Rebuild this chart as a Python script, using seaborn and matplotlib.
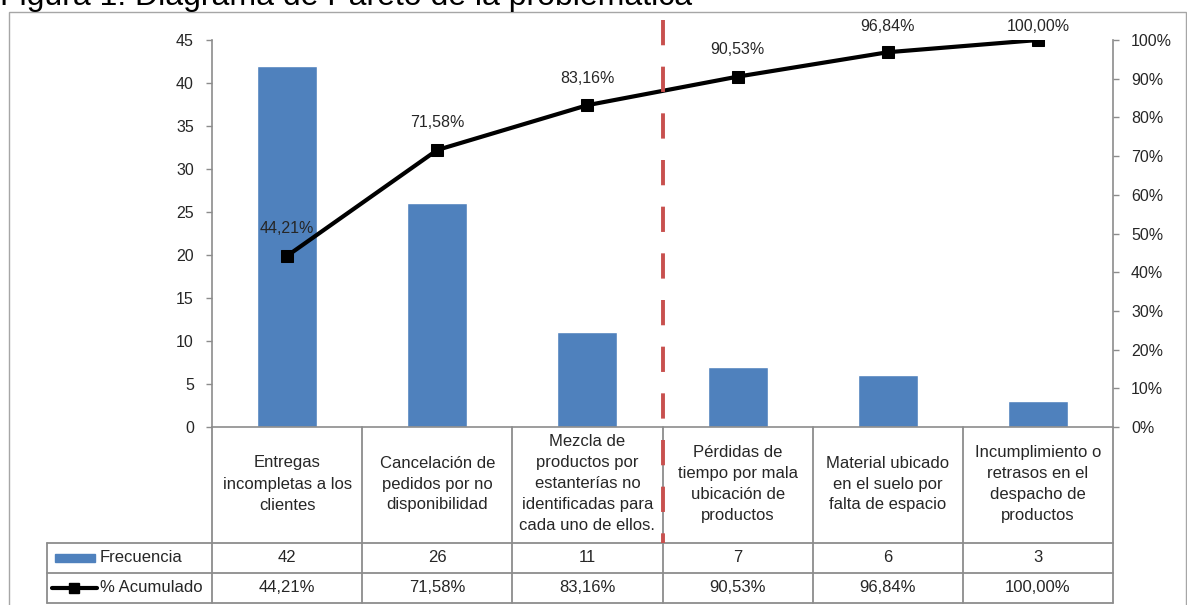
import numpy as np
import pandas as pd
import matplotlib
matplotlib.use("Agg")
import matplotlib.pyplot as plt
import seaborn as sns
from matplotlib.transforms import blended_transform_factory
from matplotlib.lines import Line2D
from matplotlib.patches import Rectangle
from matplotlib.ticker import FuncFormatter

# Datos del diagrama de Pareto
categorias = [
    "Entregas\nincompletas a los\nclientes",
    "Cancelación de\npedidos por no\ndisponibilidad",
    "Mezcla de\nproductos por\nestanterías no\nidentificadas para\ncada uno de ellos.",
    "Pérdidas de\ntiempo por mala\nubicación de\nproductos",
    "Material ubicado\nen el suelo por\nfalta de espacio",
    "Incumplimiento o\nretrasos en el\ndespacho de\nproductos",
]
frecuencia = [42, 26, 11, 7, 6, 3]
acumulado = [44.21, 71.58, 83.16, 90.53, 96.84, 100.00]
serie_barras = "Frecuencia"
serie_linea = "% Acumulado"
titulo = "Figura 1. Diagrama de Pareto de la problemática"


def pct(v):
    return f"{v:.2f}".replace(".", ",") + "%"


sns.set_theme(style="white")
plt.rcParams["font.family"] = ["Liberation Sans", "DejaVu Sans"]

W, H = 1187, 605
fig = plt.figure(figsize=(W / 100, H / 100), dpi=100)


def fx(px):
    return px / W


def fy(py):
    return 1 - py / H


GRIS = "#8c8c8c"
AZUL = "#4F81BD"
ROJO = "#C8504E"

# Marco exterior del gráfico
fig.patches.append(Rectangle((fx(9), fy(H + 5)), fx(1186) - fx(9), fy(12) - fy(H + 5),
                             transform=fig.transFigure, fill=False, ec="#a6a6a6", lw=1))

fig.text(0.0, fy(5), titulo, fontsize=23, ha="left", va="baseline", color="black")

ax = fig.add_axes([fx(212), fy(427), fx(1113) - fx(212), fy(40) - fy(427)])
df = pd.DataFrame({"categoria": categorias, "frecuencia": frecuencia})
sns.barplot(data=df, x="categoria", y="frecuencia", color=AZUL, saturation=1,
            width=0.4, ax=ax)
ax.set_xlim(-0.5, len(categorias) - 0.5)
ax.set_ylim(0, 45)
ax.set_yticks(range(0, 46, 5))
ax.set_xticks([])
ax.set_xlabel("")
ax.set_ylabel("")
for s in ["top", "right"]:
    ax.spines[s].set_visible(False)
for s in ["left", "bottom"]:
    ax.spines[s].set_color(GRIS)
    ax.spines[s].set_linewidth(1.2)
ax.tick_params(axis="y", direction="out", length=4, width=1, color=GRIS,
               labelsize=11.5, pad=9, left=True)

ax2 = ax.twinx()
x_pos = np.arange(len(categorias))
sns.lineplot(x=x_pos, y=acumulado, ax=ax2, color="black", lw=3, marker="s",
             markersize=9, markeredgecolor="black", zorder=5)
ax2.set_ylim(0, 100)
ax2.set_yticks(range(0, 101, 10))
ax2.yaxis.set_major_formatter(FuncFormatter(lambda v, p: f"{v:.0f}%"))
for s in ["top", "left", "bottom"]:
    ax2.spines[s].set_visible(False)
ax2.spines["right"].set_color(GRIS)
ax2.spines["right"].set_linewidth(1.2)
ax2.tick_params(axis="y", direction="out", length=4, width=1, color=GRIS,
                labelsize=11.5, pad=9, right=True)
ax2.set_ylabel("")
ax2.grid(False)
ax.grid(False)

# Etiquetas de porcentaje sobre cada punto, sin salir del área del gráfico
for xi, v in zip(x_pos, acumulado):
    y_lab = min(v + 7.0, 103.4)
    ax2.text(xi, y_lab, pct(v), ha="center", va="center", fontsize=11.5,
             zorder=6, clip_on=False)

# Tabla de datos bajo el eje de categorías
tr = blended_transform_factory(ax.transData, fig.transFigure)
y_top, y_h, y_r1, y_r2 = 427, 543, 573, 603
lw_t = 1.3
for b in np.arange(-0.5, len(categorias), 1.0):
    fig.add_artist(Line2D([b, b], [fy(y_top), fy(y_r2)], transform=tr, color=GRIS, lw=lw_t))
for yy in (y_h, y_r1, y_r2):
    fig.add_artist(Line2D([fx(47), fx(1113)], [fy(yy), fy(yy)], transform=fig.transFigure,
                          color=GRIS, lw=lw_t))
fig.add_artist(Line2D([fx(47), fx(47)], [fy(y_h), fy(y_r2)], transform=fig.transFigure,
                      color=GRIS, lw=lw_t))

for xi, cat, f, a in zip(x_pos, categorias, frecuencia, acumulado):
    fig.text(xi, fy((y_top + y_h) / 2 - 1), cat, transform=tr, ha="center", va="center",
             fontsize=12, linespacing=1.5, multialignment="center")
    fig.text(xi, fy((y_h + y_r1) / 2), str(f), transform=tr, ha="center", va="center",
             fontsize=12)
    fig.text(xi, fy((y_r1 + y_r2) / 2), pct(a), transform=tr, ha="center", va="center",
             fontsize=12)

# Claves de la leyenda en la tabla
fig.patches.append(Rectangle((fx(55), fy(562)), fx(95) - fx(55), fy(554) - fy(562),
                             transform=fig.transFigure, color=AZUL))
fig.text(fx(100), fy((y_h + y_r1) / 2), serie_barras, ha="left", va="center", fontsize=12)
fig.add_artist(Line2D([fx(52), fx(97)], [fy(588), fy(588)], transform=fig.transFigure,
                      color="black", lw=3))
fig.add_artist(Line2D([fx(74.5)], [fy(588)], transform=fig.transFigure, color="black",
                      marker="s", markersize=7, lw=0))
fig.text(fx(100), fy((y_r1 + y_r2) / 2), serie_linea, ha="left", va="center", fontsize=12)

# Línea de corte del 80 %
fig.add_artist(Line2D([2.5, 2.5], [fy(20), fy(y_h)], transform=tr, color=ROJO, lw=2.8,
                      dashes=(6.5, 5.5), zorder=10))

fig.savefig("out.png", dpi=100)
